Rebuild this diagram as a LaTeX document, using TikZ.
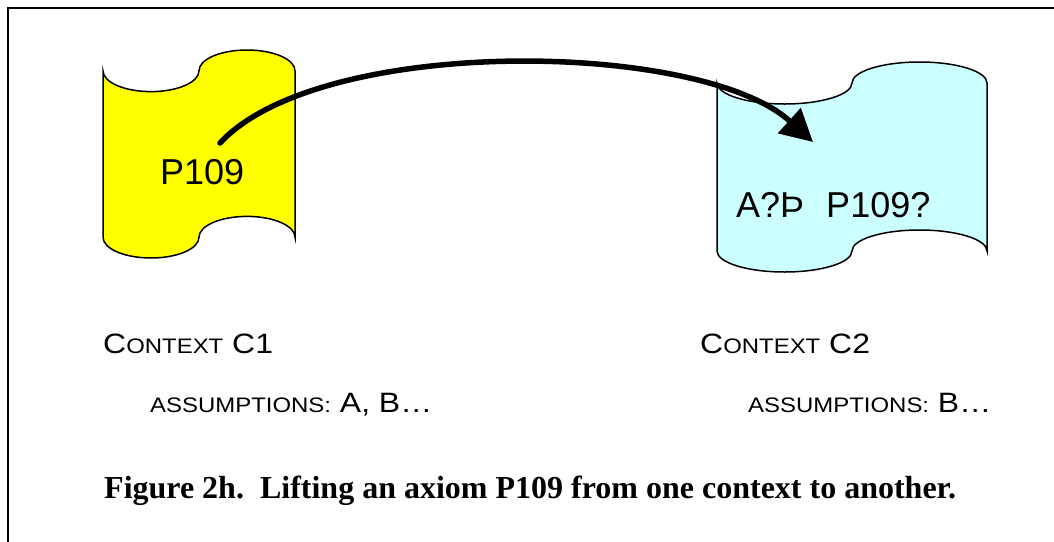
\documentclass[tikz,border=0pt]{standalone}
\usepackage{fontspec}
\setmainfont{Liberation Sans}
\newfontfamily\capfont{Liberation Serif}
\newfontfamily\widefont[FakeStretch=1.14]{Liberation Sans}
\usetikzlibrary{arrows.meta}
\definecolor{tapeyellow}{HTML}{FFFF00}
\definecolor{tapecyan}{HTML}{CCFFFF}
\newcommand\punchtape[5]{%
  \pgfmathsetmacro\pA{0.1*(#4-#3)}%
  \pgfmathsetmacro\pQ{(#2-#1)/4}%
  \pgfmathsetmacro\kq{0.5523*\pQ}%
  \pgfmathsetmacro\ka{0.5523*\pA}%
  \pgfmathsetmacro\xa{#1}%
  \pgfmathsetmacro\xb{#1+\pQ}%
  \pgfmathsetmacro\xc{#1+2*\pQ}%
  \pgfmathsetmacro\xd{#1+3*\pQ}%
  \pgfmathsetmacro\xe{#2}%
  \pgfmathsetmacro\yT{#3+\pA}%
  \pgfmathsetmacro\yTt{#3+2*\pA}%
  \pgfmathsetmacro\yTc{#3}%
  \pgfmathsetmacro\yB{#4-\pA}%
  \pgfmathsetmacro\yBt{#4}%
  \pgfmathsetmacro\yBc{#4-2*\pA}%
  \draw[tape, fill=#5] (\xa,\yT) .. controls (\xa,\yT+\ka) and (\xb-\kq,\yTt) .. (\xb,\yTt)
    .. controls (\xb+\kq,\yTt) and (\xc,\yT+\ka) .. (\xc,\yT)
    .. controls (\xc,\yT-\ka) and (\xd-\kq,\yTc) .. (\xd,\yTc)
    .. controls (\xd+\kq,\yTc) and (\xe,\yT-\ka) .. (\xe,\yT)
    -- (\xe,\yB)
    .. controls (\xe,\yB-\ka) and (\xd+\kq,\yBc) .. (\xd,\yBc)
    .. controls (\xd-\kq,\yBc) and (\xc,\yB-\ka) .. (\xc,\yB)
    .. controls (\xc,\yB+\ka) and (\xb+\kq,\yBt) .. (\xb,\yBt)
    .. controls (\xb-\kq,\yBt) and (\xa,\yB+\ka) .. (\xa,\yB)
    -- cycle;}
\newcommand\bigC[1]{{\fontsize{28}{32}\selectfont #1}}
\newcommand\smC[1]{{\fontsize{21}{24}\selectfont #1}}
\begin{document}
\begin{tikzpicture}[x=1pt,y=-1pt,
  tape/.style={draw=black, line width=1.5pt},
  lbl/.style={inner sep=0pt, anchor=base west},
  ctx/.style={lbl, font=\widefont},
  bigtxt/.style={lbl, font=\fontsize{36}{40}\selectfont},
  lift/.style={line width=5.5pt, line cap=round, -{Triangle[length=32pt,width=33pt]}}]
\useasboundingbox (0,0) rectangle (1054,541);
\fill[white] (0,0) rectangle (1054,541);
\draw[line width=2pt] (1060,7.5) -- (7.5,7.5) -- (7.5,550);
\punchtape{103}{295}{50}{258}{tapeyellow}
\punchtape{717}{987}{62}{272}{tapecyan}
\node[bigtxt] (p1) at (160,184) {P109};
\node[bigtxt] (p2) at (736,217) {A?Þ\ \ \kern2pt P109?};
\coordinate (src) at (220,143);
\coordinate (dst) at (813,142);
\draw[lift] (src) .. controls (320,35) and (700,40) .. (dst);
\node[ctx] (c1) at (103,353) {\bigC{C}\smC{ONTEXT}\bigC{ C1}};
\node[ctx] (a1) at (150,412) {\smC{ASSUMPTIONS:}\bigC{ A, B…}};
\node[ctx] (c2) at (700,353) {\bigC{C}\smC{ONTEXT}\bigC{ C2}};
\node[ctx] (a2) at (748,412) {\smC{ASSUMPTIONS:}\bigC{ B…}};
\node[lbl, font=\capfont\bfseries\fontsize{32}{36}\selectfont] (cap) at (104,498) {Figure 2h.\ \ Lifting an axiom P109 from one context to another.};
\end{tikzpicture}
\end{document}
